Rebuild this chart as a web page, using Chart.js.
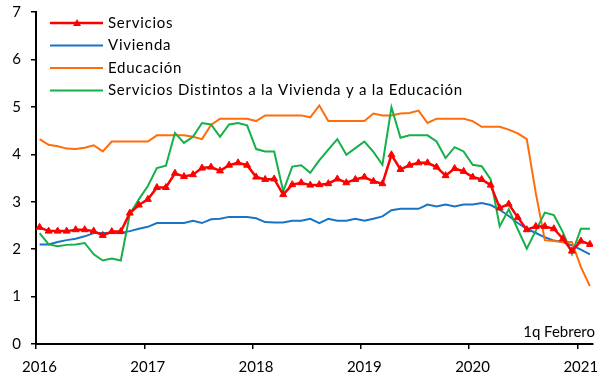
<!DOCTYPE html>
<html lang="es">
<head>
<meta charset="utf-8">
<title>Inflación de servicios</title>
<script src="https://cdn.jsdelivr.net/npm/chart.js@4.4.1/dist/chart.umd.min.js"></script>
<style>
  html, body { margin: 0; padding: 0; background: #fff; }
  #wrap { width: 600px; height: 381px; }
</style>
</head>
<body>
<div id="wrap"><canvas id="chart" width="600" height="381"></canvas></div>
<script>
// Monthly observations, Jan 2016 .. Feb 2021 (last one is the first half of February)
const months = [
  '2016-01','2016-02','2016-03','2016-04','2016-05','2016-06','2016-07','2016-08','2016-09','2016-10','2016-11','2016-12',
  '2017-01','2017-02','2017-03','2017-04','2017-05','2017-06','2017-07','2017-08','2017-09','2017-10','2017-11','2017-12',
  '2018-01','2018-02','2018-03','2018-04','2018-05','2018-06','2018-07','2018-08','2018-09','2018-10','2018-11','2018-12',
  '2019-01','2019-02','2019-03','2019-04','2019-05','2019-06','2019-07','2019-08','2019-09','2019-10','2019-11','2019-12',
  '2020-01','2020-02','2020-03','2020-04','2020-05','2020-06','2020-07','2020-08','2020-09','2020-10','2020-11','2020-12',
  '2021-01','2021-02'
];

const servicios = [
  2.46, 2.38, 2.38, 2.38, 2.41, 2.41, 2.38, 2.29, 2.37, 2.37, 2.76, 2.93,
  3.05, 3.30, 3.30, 3.60, 3.53, 3.57, 3.71, 3.73, 3.65, 3.77, 3.82, 3.77,
  3.52, 3.47, 3.48, 3.15, 3.36, 3.40, 3.35, 3.36, 3.38, 3.48, 3.40, 3.47,
  3.52, 3.43, 3.38, 3.99, 3.68, 3.77, 3.82, 3.82, 3.73, 3.55, 3.70, 3.64,
  3.52, 3.47, 3.35, 2.87, 2.95, 2.67, 2.41, 2.48, 2.48, 2.43, 2.22, 1.96,
  2.17, 2.10
];

const vivienda = [
  2.10, 2.10, 2.15, 2.19, 2.22, 2.27, 2.34, 2.34, 2.34, 2.34, 2.38, 2.43,
  2.47, 2.55, 2.55, 2.55, 2.55, 2.60, 2.55, 2.63, 2.64, 2.68, 2.68, 2.68,
  2.65, 2.57, 2.56, 2.56, 2.60, 2.60, 2.64, 2.55, 2.64, 2.60, 2.60, 2.64,
  2.60, 2.64, 2.69, 2.82, 2.85, 2.85, 2.85, 2.94, 2.90, 2.94, 2.90, 2.94,
  2.94, 2.97, 2.93, 2.83, 2.70, 2.55, 2.43, 2.34, 2.25, 2.18, 2.15, 2.08,
  1.99, 1.89
];

const educacion = [
  4.32, 4.20, 4.17, 4.12, 4.11, 4.14, 4.19, 4.06, 4.27, 4.27, 4.27, 4.27,
  4.27, 4.40, 4.40, 4.40, 4.40, 4.37, 4.32, 4.62, 4.75, 4.75, 4.75, 4.75,
  4.70, 4.82, 4.82, 4.82, 4.82, 4.82, 4.78, 5.03, 4.70, 4.70, 4.70, 4.70,
  4.70, 4.86, 4.82, 4.82, 4.86, 4.87, 4.92, 4.66, 4.75, 4.75, 4.75, 4.75,
  4.70, 4.58, 4.58, 4.58, 4.52, 4.44, 4.32, 3.18, 2.19, 2.17, 2.15, 2.15,
  1.62, 1.22
];

const distintos = [
  2.34, 2.10, 2.06, 2.09, 2.10, 2.13, 1.89, 1.76, 1.80, 1.76, 2.74, 3.05,
  3.33, 3.71, 3.76, 4.45, 4.24, 4.37, 4.66, 4.63, 4.37, 4.63, 4.66, 4.61,
  4.11, 4.06, 4.06, 3.22, 3.74, 3.77, 3.61, 3.87, 4.10, 4.32, 3.99, 4.13,
  4.27, 4.05, 3.78, 4.99, 4.35, 4.40, 4.40, 4.40, 4.27, 3.92, 4.15, 4.06,
  3.78, 3.75, 3.47, 2.48, 2.84, 2.42, 2.01, 2.39, 2.77, 2.72, 2.36, 1.90,
  2.43, 2.43
];

const seriesNames = [
  'Servicios',
  'Vivienda',
  'Educación',
  'Servicios Distintos a la Vivienda y a la Educación'
];
const yearTicks = [2016, 2017, 2018, 2019, 2020, 2021];
const valueTicks = [0, 1, 2, 3, 4, 5, 6, 7];
const noteText = '1q Febrero';

const FONT = 'Lato, "Open Sans", sans-serif';

// each month sits a little after the start of its year slot
function monthToX(m) {
  const [y, mo] = m.split('-').map(Number);
  return y + (mo - 1 + 0.4) / 12;
}
function toPoints(values) {
  return values.map((v, i) => ({ x: monthToX(months[i]), y: v }));
}

const datasets = [
  { label: seriesNames[0], data: toPoints(servicios), borderColor: '#ff0000', backgroundColor: '#ff0000',
    borderWidth: 2.5, pointStyle: 'triangle', pointRadius: 4, pointBorderWidth: 1, order: 0 },
  { label: seriesNames[1], data: toPoints(vivienda), borderColor: '#1a74c6', backgroundColor: '#1a74c6',
    borderWidth: 2, pointRadius: 0, order: 3 },
  { label: seriesNames[2], data: toPoints(educacion), borderColor: '#ff6d0a', backgroundColor: '#ff6d0a',
    borderWidth: 2, pointRadius: 0, order: 2 },
  { label: seriesNames[3], data: toPoints(distintos), borderColor: '#14b04a', backgroundColor: '#14b04a',
    borderWidth: 2, pointRadius: 0, order: 1 }
];

// legend inside the plot, top-left, plus the footnote in the corner
const insideLegend = {
  id: 'insideLegend',
  afterDraw(chart) {
    const ctx = chart.ctx;
    const rowsY = [23, 45.5, 68, 90.5];
    ctx.save();
    ctx.font = '15px ' + FONT;
    ctx.textBaseline = 'middle';
    ctx.fillStyle = '#000';
    chart.data.datasets.forEach((ds, i) => {
      const y = rowsY[i];
      ctx.strokeStyle = ds.borderColor;
      ctx.lineWidth = ds.borderWidth;
      ctx.beginPath();
      ctx.moveTo(50, y);
      ctx.lineTo(103, y);
      ctx.stroke();
      if (ds.pointStyle === 'triangle') {
        ctx.fillStyle = ds.backgroundColor;
        ctx.beginPath();
        ctx.moveTo(77, y - 4);
        ctx.lineTo(81, y + 3);
        ctx.lineTo(73, y + 3);
        ctx.closePath();
        ctx.fill();
      }
      ctx.fillStyle = '#000';
      ctx.textAlign = 'left';
      ctx.letterSpacing = '0.75px';
      ctx.fillText(ds.label, 108, y);
      ctx.letterSpacing = '0px';
    });
    ctx.textAlign = 'right';
    ctx.fillText(noteText, 595, 332);
    ctx.restore();
  }
};

new Chart(document.getElementById('chart'), {
  type: 'line',
  data: { datasets },
  plugins: [insideLegend],
  options: {
    responsive: false,
    animation: false,
    devicePixelRatio: 1,
    layout: { padding: { top: 12, right: 7, left: 0, bottom: 0 } },
    plugins: { legend: { display: false }, tooltip: { enabled: false } },
    elements: { line: { tension: 0 } },
    scales: {
      x: {
        type: 'linear',
        min: 2016,
        max: 2021.145,
        afterBuildTicks: s => { s.ticks = yearTicks.map(v => ({ value: v })); },
        afterFit: s => { s.height = 37; s.paddingLeft = 0; s.paddingRight = 0; },
        ticks: {
          callback: v => String(v),
          font: { family: FONT, size: 15 },
          color: '#000',
          padding: 9,
          labelOffset: 3.5,
          maxRotation: 0,
          autoSkip: false
        },
        grid: { drawOnChartArea: false, drawTicks: true, tickLength: 5, color: '#000', lineWidth: 1.5 },
        border: { color: '#000', width: 2 }
      },
      y: {
        min: 0,
        max: 7,
        afterBuildTicks: s => { s.ticks = valueTicks.map(v => ({ value: v })); },
        afterFit: s => { s.width = 36; s.paddingTop = 0; s.paddingBottom = 0; },
        ticks: {
          callback: v => String(v),
          font: { family: FONT, size: 15 },
          color: '#000',
          padding: 10
        },
        grid: { drawOnChartArea: false, drawTicks: true, tickLength: 5, color: '#000', lineWidth: 1.5 },
        border: { color: '#000', width: 2 }
      }
    }
  }
});
</script>
</body>
</html>
